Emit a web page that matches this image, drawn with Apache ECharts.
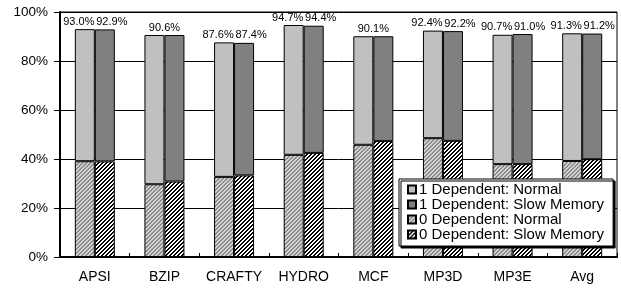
<!DOCTYPE html>
<html>
<head>
<meta charset="utf-8">
<script src="https://cdn.jsdelivr.net/npm/echarts@6/dist/echarts.min.js"></script>
<style>
  html, body { margin: 0; padding: 0; background: #fff; }
  #chart { width: 621px; height: 291px; }
</style>
</head>
<body>
<div id="chart"></div>
<script>
// benchmark names
const categories = ['APSI', 'BZIP', 'CRAFTY', 'HYDRO', 'MCF', 'MP3D', 'MP3E', 'Avg'];

// total bar heights (1 dependent), in percent
const normalTotal = [93.0, 90.6, 87.6, 94.7, 90.1, 92.4, 90.7, 91.3];
const slowTotal   = [92.9, 90.6, 87.4, 94.4, 90.1, 92.2, 91.0, 91.2];

// 0 dependent part
const normalZero = [39.1, 29.7, 32.7, 41.7, 45.8, 48.5, 37.9, 39.2];
const slowZero   = [39.0, 30.8, 33.3, 42.5, 47.3, 47.4, 37.9, 39.9];

const yTicks = { min: 0, max: 100, interval: 20 };

const FONT = 'Liberation Sans';

function stripes(fg, bg) {
    const n = 4;
    const c = document.createElement('canvas');
    c.width = n; c.height = n;
    const ctx = c.getContext('2d');
    ctx.fillStyle = bg;
    ctx.fillRect(0, 0, n, n);
    ctx.fillStyle = fg;
    for (let x = 0; x < n; x++) {
        for (let y = 0; y < n; y++) {
            if ((x + y) % n < 2) ctx.fillRect(x, y, 1, 1);
        }
    }
    return { image: c, repeat: 'repeat' };
}

const chart = echarts.init(document.getElementById('chart'), null, { renderer: 'canvas' });

const bar = { type: 'bar', barWidth: 20, barGap: '0%' };
const border = { borderColor: '#000', borderWidth: 1 };

// one label per bar, or a single centred one when both totals match
function topLabel(totals, others, isNormal) {
    return {
        show: true,
        position: 'top',
        distance: 2,
        color: '#000',
        fontFamily: FONT,
        fontSize: 11,
        formatter: p => {
            const i = p.dataIndex;
            if (totals[i] === others[i] && !isNormal) return '';
            return totals[i].toFixed(1) + '%';
        }
    };
}

const option = {
    animation: false,
    backgroundColor: '#fff',
    textStyle: { fontFamily: FONT },
    grid: {
        left: 60, right: 4, top: 12, bottom: 34,
        show: true, borderColor: '#000', borderWidth: 1, backgroundColor: '#fff'
    },
    legend: {
        orient: 'vertical',
        left: 399, top: 179,
        data: ['1 Dependent: Normal', '1 Dependent: Slow Memory', '0 Dependent: Normal', '0 Dependent: Slow Memory'],
        icon: 'rect',
        itemWidth: 8, itemHeight: 8, itemGap: 0,
        padding: [3, 9, 4, 8],
        backgroundColor: '#fff',
        borderColor: '#000', borderWidth: 1,
        shadowColor: '#000', shadowBlur: 0, shadowOffsetX: 2, shadowOffsetY: 2,
        textStyle: { fontFamily: FONT, fontSize: 15, lineHeight: 15, color: '#000', padding: [0, 0, 0, -2] }
    },
    xAxis: {
        type: 'category',
        data: categories,
        axisLine: { lineStyle: { color: '#000', width: 2 } },
        axisTick: { show: true, inside: true, length: 4, lineStyle: { color: '#000' } },
        axisLabel: { color: '#000', fontFamily: FONT, fontSize: 14, margin: 13, interval: 0 }
    },
    yAxis: {
        type: 'value',
        min: yTicks.min, max: yTicks.max, interval: yTicks.interval,
        axisLine: { show: true, lineStyle: { color: '#000', width: 2 } },
        axisTick: { show: true, length: 6, lineStyle: { color: '#000' } },
        splitLine: { lineStyle: { color: '#000', width: 1 } },
        axisLabel: { color: '#000', fontFamily: FONT, fontSize: 13.5, margin: 12, formatter: '{value}%' }
    },
    series: [
        Object.assign({}, bar, {
            name: '0 Dependent: Normal', stack: 'n',
            itemStyle: Object.assign({ color: stripes('#8c8c8c', '#d4d4d4') }, border),
            data: normalZero
        }),
        Object.assign({}, bar, {
            name: '1 Dependent: Normal', stack: 'n',
            itemStyle: Object.assign({ color: '#c0c0c0' }, border),
            label: topLabel(normalTotal, slowTotal, true),
            labelLayout: p => ({ dx: normalTotal[p.dataIndex] === slowTotal[p.dataIndex] ? 10 : -6 }),
            data: normalTotal.map((t, i) => +(t - normalZero[i]).toFixed(1))
        }),
        Object.assign({}, bar, {
            name: '0 Dependent: Slow Memory', stack: 's',
            itemStyle: Object.assign({ color: stripes('#000', '#fff') }, border),
            data: slowZero
        }),
        Object.assign({}, bar, {
            name: '1 Dependent: Slow Memory', stack: 's',
            itemStyle: Object.assign({ color: '#808080' }, border),
            label: topLabel(slowTotal, normalTotal, false),
            labelLayout: { dx: 7 },
            data: slowTotal.map((t, i) => +(t - slowZero[i]).toFixed(1))
        })
    ]
};

chart.setOption(option);
</script>
</body>
</html>
